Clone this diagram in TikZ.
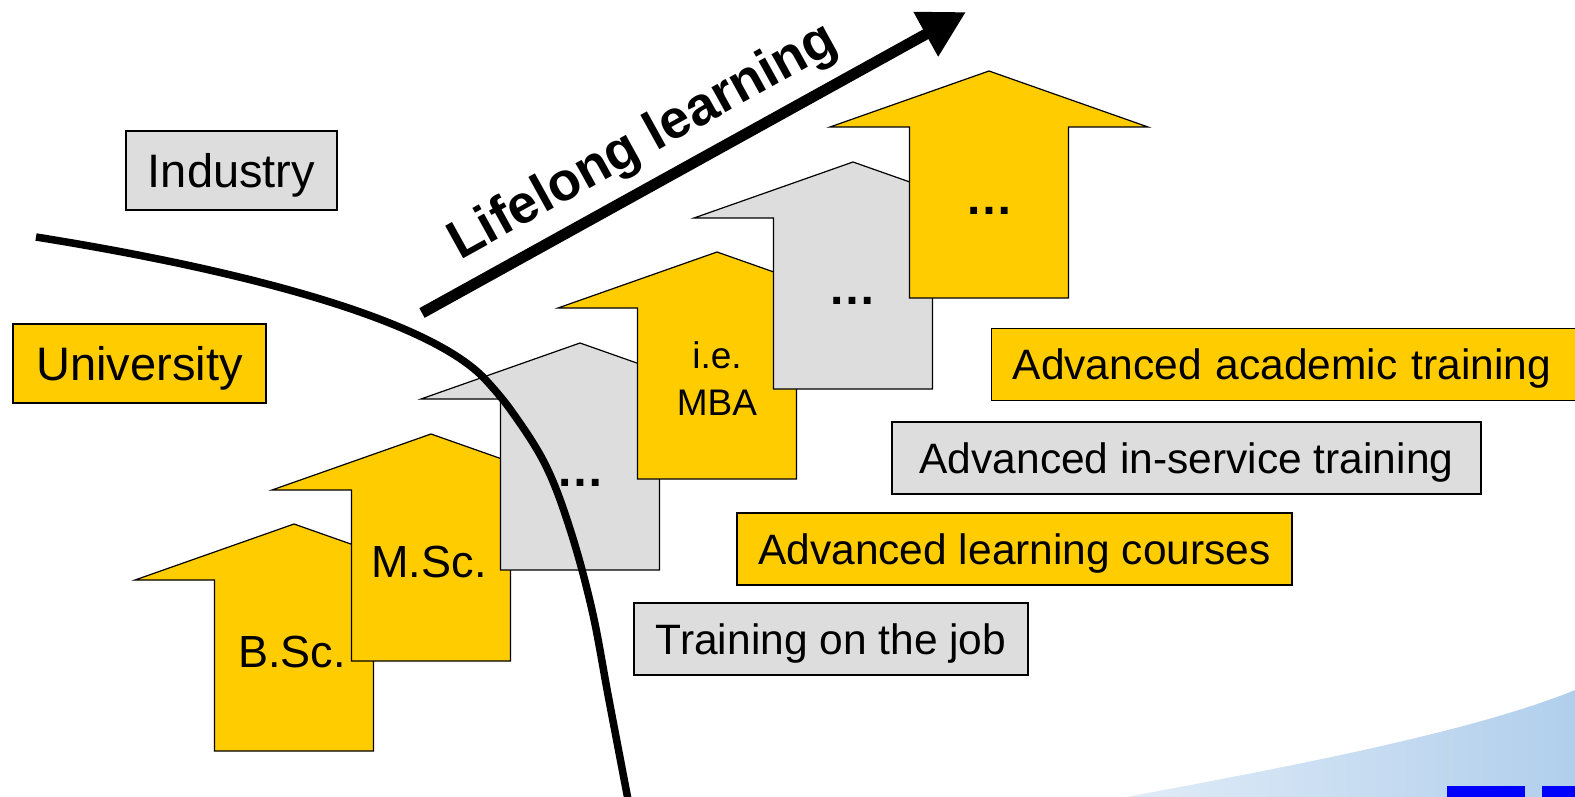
\documentclass[tikz,border=0pt]{standalone}
\usepackage{fontspec}
\setmainfont{Liberation Sans}
\usetikzlibrary{arrows.meta}

\definecolor{gold}{HTML}{FFCC00}
\definecolor{stepgray}{HTML}{DDDDDD}
\definecolor{swooshleft}{RGB}{226,237,248}
\definecolor{swooshright}{RGB}{176,206,236}

\tikzset{
  % upward step arrow, tip at the pic origin
  stepshape/.pic={
    \path[pic actions] (0,0) -- (159,56) -- (79.5,56) -- (79.5,227)
      -- (-79.5,227) -- (-79.5,56) -- (-159,56) -- cycle;
  },
  yellowstep/.style={fill=gold, draw=black, line width=1.2pt, line join=miter},
  graystep/.style={fill=stepgray, draw=black, line width=1.2pt, line join=miter},
  steptext/.style={font=\fontsize{45}{52}\selectfont, inner sep=0pt,
    text height=32.2pt, text depth=0pt},
  smalltext/.style={font=\fontsize{37}{44}\selectfont, inner sep=0pt,
    text height=26.5pt, text depth=0pt},
  dotstext/.style={font=\fontsize{48}{52}\selectfont\bfseries, inner sep=0pt},
  labelbox/.style={draw=black, line width=1.3pt, inner sep=0pt,
    font=\fontsize{42.5}{50}\selectfont, text height=30.5pt, text depth=0pt,
    minimum height=72pt},
  sidebox/.style={draw=black, line width=1.3pt, inner sep=0pt,
    font=\fontsize{47}{54}\selectfont, text height=33.7pt, text depth=0pt,
    minimum height=79pt},
}

\begin{document}
\begin{tikzpicture}[x=1pt, y=-1pt]
\clip (0,0) rectangle (1575,797);
\fill[white] (0,0) rectangle (1575,797);

% background swoosh and blue marks
\shade[left color=swooshleft, right color=swooshright]
  (1110,800) .. controls (1300,765) and (1480,730) .. (1580,688)
  -- (1580,800) -- cycle;
\fill[blue] (1447,786) rectangle (1525,800);
\fill[blue] (1542,786) rectangle (1585,800);

% side labels
\node[sidebox, fill=stepgray, minimum width=211pt] (industry) at (231.5,170.5) {Industry};
\node[sidebox, fill=gold, minimum width=253pt] (university) at (139.5,363.5) {University};

% step arrows
\pic[yellowstep] at (294,524) {stepshape};
\pic[yellowstep] at (431,434) {stepshape};
\pic[graystep]   at (580,343) {stepshape};
\pic[yellowstep] at (717,252) {stepshape};
\pic[graystep]   at (853,162) {stepshape};
\pic[yellowstep] at (989,71)  {stepshape};

\node[steptext] (bsc) at (292,651) {B.Sc.};
\node[steptext] (msc) at (429,561) {M.Sc.};
\node[dotstext] (dots3) at (580,483) {…};
\node[smalltext] (ie) at (717,355) {i.e.};
\node[smalltext] (mba) at (717,402) {MBA};
\node[dotstext] (dots5) at (852,301) {…};
\node[dotstext] (dots6) at (989,211) {…};

% training labels
\node[labelbox, fill=gold, anchor=west, inner xsep=21pt, text width=600pt, align=left]
  (academic) at (991,364.5) {Advanced academic training};
\node[labelbox, fill=stepgray, minimum width=589pt] (inservice) at (1186.5,458) {Advanced in-service training};
\node[labelbox, fill=gold, minimum width=555pt] (courses) at (1014.5,549) {Advanced learning courses};
\node[labelbox, fill=stepgray, minimum width=394pt] (onjob) at (831,639) {Training on the job};

% lifelong learning arrow
\coordinate (lstart) at (422,313);
\coordinate (ltip) at (966,12);
\draw[line width=11pt, -{Triangle[length=46pt, width=48pt]}] (lstart) -- (ltip);
\node[font=\fontsize{54}{60}\selectfont\bfseries, rotate=28.95, inner sep=0pt,
  text height=38.5pt, text depth=0pt] (lifelong) at (641,138) {Lifelong learning};

% border between university and industry
\draw[line width=7.5pt] (36,237) .. controls (236,269) and (423,317) .. (483,377)
  plot[smooth, tension=0.6] coordinates {
  (483,377) (510,409) (545,464) (570,529) (592,610) (609,700) (630,810)};
\end{tikzpicture}
\end{document}
